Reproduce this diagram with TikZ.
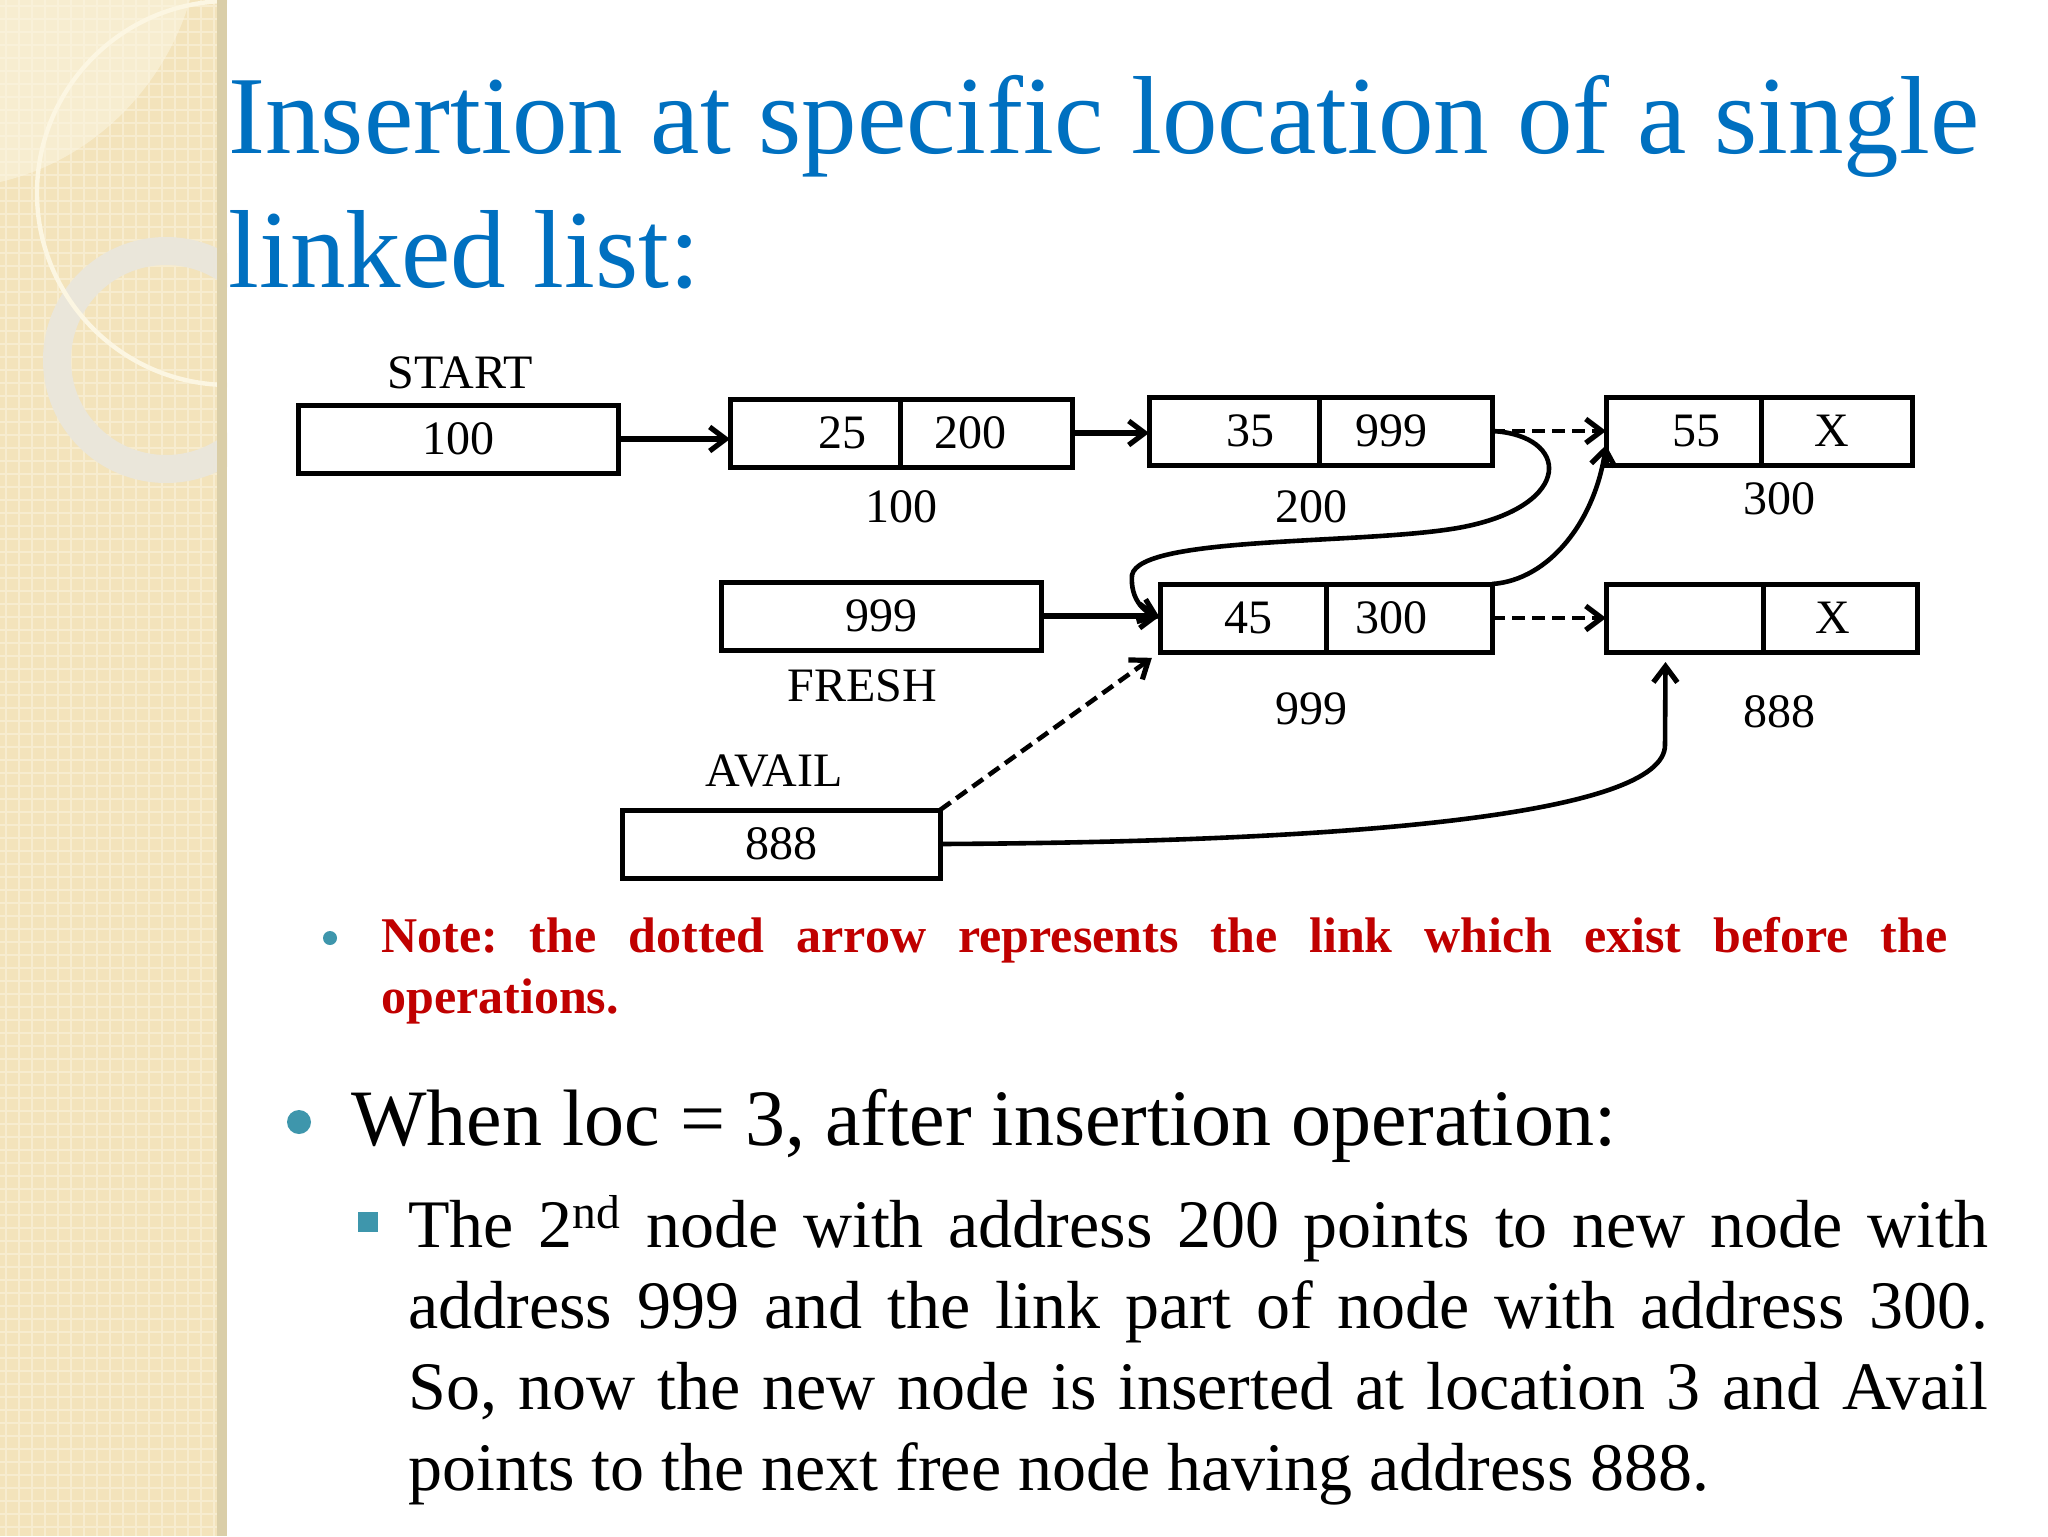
\documentclass[tikz,border=0pt]{standalone}
\usepackage{fontspec}
\setmainfont{Liberation Serif}
\usetikzlibrary{arrows.meta}
\definecolor{titleblue}{RGB}{0,112,192}
\definecolor{notered}{RGB}{192,0,0}
\definecolor{dotteal}{RGB}{62,150,172}
\definecolor{strip}{RGB}{243,227,187}
\definecolor{stripdark}{RGB}{218,206,168}
\definecolor{stripgrid}{RGB}{247,236,207}
\definecolor{ringgrey}{RGB}{234,230,218}
\definecolor{arccream}{RGB}{252,246,226}
\frenchspacing

\begin{document}
\begin{tikzpicture}[x=0.5pt, y=-0.5pt,
                    cell/.style={draw, line width=2.5pt, outer sep=0pt, inner sep=0pt,
                                 minimum height=34pt, font=\fontsize{24}{28}\selectfont},
                    lbl/.style={inner sep=0pt, font=\fontsize{24}{28}\selectfont},
                    link/.style={line width=2.3pt, -{Straight Barb[length=8pt,width=12pt,line width=2.6pt]}},
                    oldlink/.style={link, dash pattern=on 6.5pt off 3.5pt}
                    ]
                    \useasboundingbox (0,0) rectangle (2048,1536);
                    \fill[white] (0,0) rectangle (2048,1536);

                    % side strip
                    \fill[strip] (0,0) rectangle (227,1536);
                    \foreach \k in {6,19,...,1536}{
                        \draw[stripgrid, line width=1pt] (0,\k) -- (217,\k);
                    }
                    \foreach \k in {6,19,...,217}{
                        \draw[stripgrid, line width=1pt] (\k,0) -- (\k,1536);
                    }
                    \begin{scope}
                        \clip (0,0) rectangle (227,1536);
                        \fill[arccream, opacity=0.55] (0,0) -- (190,0) .. controls (165,85) and (95,160) .. (0,182) -- cycle;
                        \draw[ringgrey, line width=14pt] (166,360) circle (109);
                        \draw[arccream, line width=2.2pt] (229,193) circle (192);
                    \end{scope}
                    \fill[stripdark] (217,0) rectangle (227,1536);

                    % title
                    \node[anchor=base west, inner sep=0pt, text=titleblue, font=\fontsize{55.5}{66}\selectfont] (title1) at (228,154) {Insertion at specific location of a single};
                    \node[anchor=base west, inner sep=0pt, text=titleblue, font=\fontsize{55.5}{66}\selectfont] (title2) at (228,287) {linked list:};

                    % list
                    \node[cell, minimum width=160pt] (start) at (458,439) {100};
                    \node[lbl] (startlbl) at (460,373) {START};

                    \node[cell, minimum width=85pt] (n1d) at (815,433) {\hspace*{27pt}25};
                    \node[cell, minimum width=86pt, anchor=west] (n1p) at (n1d.east) {200\hspace*{16pt}};
                    \node[lbl] (n1lbl) at (901,507) {100};

                    \node[cell, minimum width=85pt] (n2d) at (1234,431) {\hspace*{16pt}35};
                    \node[cell, minimum width=86.5pt, anchor=west] (n2p) at (n2d.east) {999\hspace*{14pt}};
                    \node[lbl] (n2lbl) at (1311,507) {200};

                    \node[cell, minimum width=77.5pt] (n3d) at (1683.5,431) {\hspace*{13pt}55};
                    \node[cell, minimum width=75.5pt, anchor=west] (n3p) at (n3d.east) {X\hspace*{5pt}};
                    \node[lbl] (n3lbl) at (1779,499) {300};

                    \node[cell, minimum width=160pt] (fresh) at (881,616) {999};
                    \node[lbl] (freshlbl) at (862,686) {FRESH};

                    \node[cell, minimum width=83pt] (n9d) at (1243,618) {\hspace*{5pt}45};
                    \node[cell, minimum width=83pt, anchor=west] (n9p) at (n9d.east) {300\hspace*{18pt}};
                    \node[lbl] (n9lbl) at (1311,709) {999};

                    \node[cell, minimum width=78.5pt] (n8d) at (1684.5,618) {};
                    \node[cell, minimum width=77pt, anchor=west] (n8p) at (n8d.east) {X\hspace*{7pt}};
                    \node[lbl] (n8lbl) at (1779,712) {888};

                    \node[cell, minimum width=159pt] (avail) at (781,844) {888};
                    \node[lbl] (availlbl) at (774,771) {AVAIL};

                    \foreach \i/\j in {start/n1d,n1p/n2d,fresh/n9d}{
                        \draw[link, line width=3pt] (\i) -- (\i -| \j.west);
                    }
                    \foreach \i/\j in {n2p/n3d,n9p/n8d}{
                        \draw[oldlink] (\i) -- (\j);
                    }
                    \draw[oldlink, shorten >=5pt] (avail.north east) -- (n9d.south west);

                    \draw[link] (n2p.east) .. controls (1570,435) and (1575,505) .. (1463,527)
                                .. controls (1370,545) and (1140,535) .. (1132,575)
                                .. controls (1130,600) and (1145,612) .. (n9d.west);
                    \draw[link] (n9p.north east) .. controls (1550,580) and (1595,520) .. ([yshift=-7pt]n3d.west);
                    \draw[link] (avail.east) .. controls (1350,842) and (1665,815) .. (1665,745)
                                -- ([xshift=-9.5pt,yshift=-5pt]n8d.south);

                    % text
                    \fill[dotteal] (330,938) circle (7);
                    \node[anchor=base west, inner sep=0pt, text width=783pt, align=justify, text=notered,
                          font=\fontsize{25}{30.5}\selectfont\bfseries] (note) at (381,952)
                          {Note: the dotted arrow represents the link which exist before the\linebreak operations.};

                    \fill[dotteal] (299,1122) circle (12);
                    \node[anchor=base west, inner sep=0pt, font=\fontsize{40}{48}\selectfont] (when) at (351,1145)
                          {When loc = 3, after insertion operation:};

                    \fill[dotteal] (358,1212) rectangle (378,1232);
                    \node[anchor=base west, inner sep=0pt, text width=790pt, align=justify,
                          font=\fontsize{34}{40.5}\selectfont] (expl) at (408,1247)
                          {The 2\textsuperscript{nd} node with address 200 points to new node with\linebreak
                           address 999 and the link part of node with address 300.\linebreak
                           So, now the new node is inserted at location 3 and Avail\linebreak
                           points to the next free node having address 888.};
                \end{tikzpicture}
\end{document}
